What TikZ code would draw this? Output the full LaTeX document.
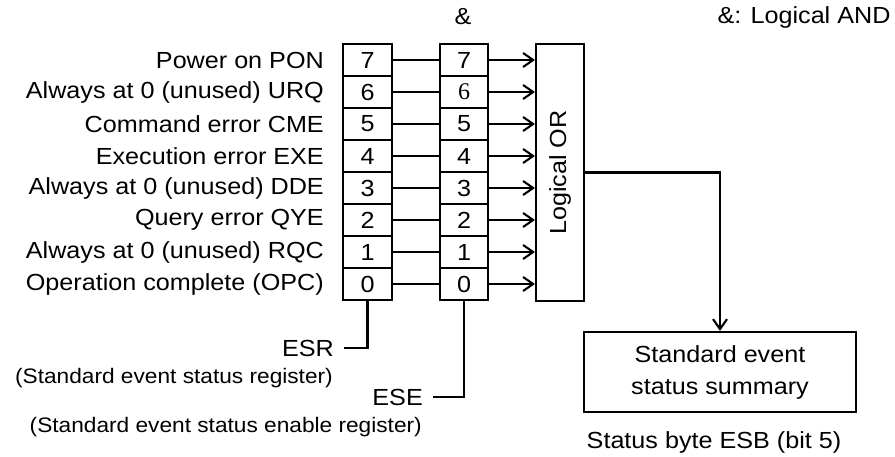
\documentclass[tikz,border=0pt]{standalone}
\usepackage{fontspec}
\setmainfont{Liberation Sans}[FakeStretch=1.08]
\newfontfamily\serifdigit{Liberation Serif}
\usetikzlibrary{arrows.meta}

\tikzset{
  bitbox/.style={draw, line width=2.1pt, minimum width=49pt, minimum height=32pt, inner sep=0pt},
  orbox/.style={draw, line width=2.1pt, minimum width=48pt, minimum height=257pt, inner sep=0pt},
  sumbox/.style={draw, line width=2.1pt, minimum width=272pt, minimum height=80pt, align=center,
    font=\fontsize{23.3}{32}\selectfont},
  flow/.style={line width=2.1pt, -{Straight Barb[length=10pt,width=14pt,line width=2.1pt]}},
  wire/.style={line width=2.1pt},
  link/.style={line width=1.2pt},
  lbl/.style={anchor=east, inner sep=0pt},
  small/.style={lbl, font=\fontsize{21}{25}\selectfont},
}

\begin{document}
\begin{tikzpicture}[x=1pt, y=-1pt, font=\fontsize{23.3}{28}\selectfont]
        \useasboundingbox (0,0) rectangle (895,457);

        % Header texts
        \node (andsign) at (463,17) {\&};
        \node (andnote) at (804,17) {\&: Logical AND};

        % Bit names
        \foreach \txt [count=\i from 0] in {Power on PON, Always at 0 (unused) URQ,
            Command error CME, Execution error EXE, Always at 0 (unused) DDE,
            Query error QYE, Always at 0 (unused) RQC, Operation complete (OPC)}
          \node[lbl] (name\i) at (324,60+32*\i) {\txt};

        % Logical OR
        \node[orbox] (or) at (560,172.5) {\rotatebox{90}{Logical OR}};

        % Register bits: ESR and ESE
        \foreach \b [count=\i from 0] in {7,...,0} {
          \node[bitbox] (esr\b) at (367.5,60+32*\i) {\b};
          \node[bitbox, minimum width=48pt] (ese\b) at (464,60+32*\i)
            {\ifnum\b=6 \serifdigit\fontsize{24}{28}\selectfont\fi\b};
          \draw[link] (esr\b) -- (ese\b);
          \draw[flow] (ese\b.east) -- (ese\b.east -| or.west);
        }

        % Summary
        \node[sumbox] (summary) at (720,372) {Standard event\\status summary};
        \node (esb) at (714,442) {Status byte ESB (bit 5)};
        \draw[flow] (or.east) -| (summary.north);

        % Register names
        \node[lbl, inner xsep=10pt] (esrname) at (344,348) {ESR};
        \node[small] (esrlong) at (333,378) {(Standard event status register)};
        \draw[wire] (esr0.south) |- (esrname.east);

        \node[lbl, inner xsep=10pt] (esename) at (433,397) {ESE};
        \node[small] (eselong) at (422,427) {(Standard event status enable register)};
        \draw[wire] (ese0.south) |- (esename.east);
\end{tikzpicture}
\end{document}
